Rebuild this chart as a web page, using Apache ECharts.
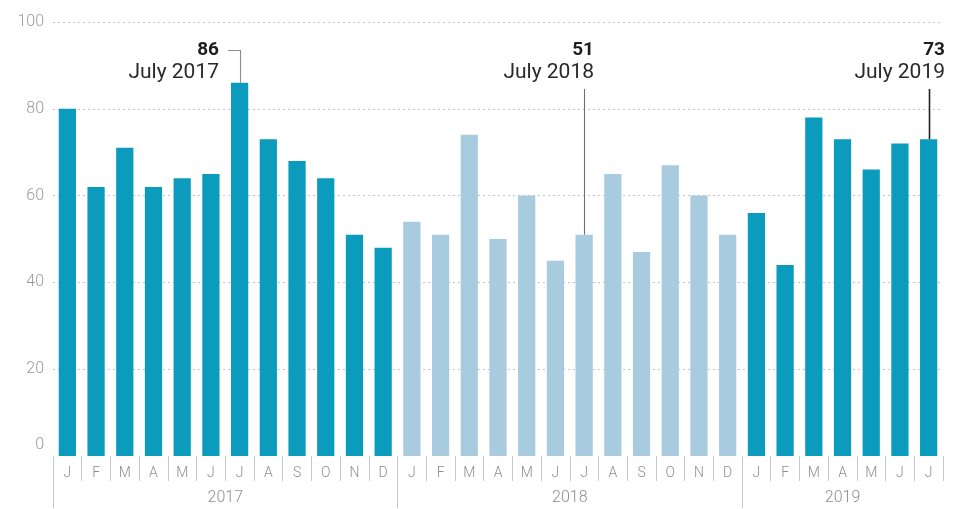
<!DOCTYPE html>
<html>
<head>
<meta charset="utf-8">
<style>
  html, body { margin: 0; padding: 0; background: #fff; }
  #chart { width: 953px; height: 509px; }
</style>
<script src="https://cdn.jsdelivr.net/npm/echarts@6/dist/echarts.min.js"></script>
</head>
<body>
<div id="chart"></div>
<script>
// Monthly index values, January 2017 through July 2019
const monthInitials = ['J', 'F', 'M', 'A', 'M', 'J', 'J', 'A', 'S', 'O', 'N', 'D'];
const years = ['2017', '2018', '2019'];
const values2017 = [80, 62, 71, 62, 64, 65, 86, 73, 68, 64, 51, 48];
const values2018 = [54, 51, 74, 50, 60, 45, 51, 65, 47, 67, 60, 51];
const values2019 = [56, 44, 78, 73, 66, 72, 73];
const yTicks = [0, 20, 40, 60, 80, 100];
// July of each year gets a callout
const calloutMonth = 6;

const DARK = '#0a9bbd';
const LIGHT = '#a9cbdf';
const yearValues = [values2017, values2018, values2019];
const yearColors = [DARK, LIGHT, DARK];

// Flatten into one category list
const categories = [];
const barData = [];
const yearStart = [];
yearValues.forEach((vals, yi) => {
  yearStart.push(categories.length);
  vals.forEach((v, mi) => {
    categories.push(years[yi] + '-' + (mi + 1));
    barData.push({ value: v, itemStyle: { color: yearColors[yi] } });
  });
});
const nCat = categories.length;

// Year band boundaries and centres on a continuous index scale
const yearBounds = yearStart.map(s => s - 0.5);
const yearCentres = yearValues.map((vals, yi) => yearStart[yi] + (vals.length - 1) / 2);

const chart = echarts.init(document.getElementById('chart'), null, { renderer: 'canvas' });

const labelFont = 'Roboto, "Liberation Sans", sans-serif';
const axisGrey = '#8e8e8e';

chart.setOption({
  animation: false,
  backgroundColor: '#ffffff',
  grid: { left: 53, right: 10, top: 22, bottom: 53, containLabel: false },
  xAxis: [
    {
      type: 'category',
      data: categories,
      boundaryGap: true,
      axisLine: { show: false },
      axisTick: { show: true, interval: 0, length: 25, lineStyle: { color: '#c8c8c8', width: 1 } },
      axisLabel: {
        interval: 0,
        margin: 10,
        color: axisGrey,
        fontFamily: labelFont,
        fontWeight: 300,
        fontSize: 14,
        formatter: (val) => monthInitials[Number(val.split('-')[1]) - 1]
      },
      splitLine: { show: false }
    },
    {
      type: 'value',
      min: -0.5,
      max: nCat - 0.5,
      position: 'bottom',
      axisLine: { show: false },
      splitLine: { show: false },
      axisTick: {
        show: true,
        customValues: yearBounds,
        length: 52,
        lineStyle: { color: '#c8c8c8', width: 1 }
      },
      axisLabel: {
        show: true,
        customValues: yearCentres,
        margin: 34,
        color: axisGrey,
        fontFamily: labelFont,
        fontWeight: 300,
        fontSize: 16,
        formatter: v => {
          const i = yearCentres.findIndex(c => Math.abs(c - v) < 1e-6);
          return i >= 0 ? years[i] : '';
        }
      }
    }
  ],
  yAxis: {
    type: 'value',
    min: yTicks[0],
    max: yTicks[yTicks.length - 1],
    interval: yTicks[1] - yTicks[0],
    axisLine: { show: false },
    axisTick: { show: false },
    axisLabel: {
      margin: 9,
      color: '#9a9a9a',
      fontFamily: labelFont,
      fontWeight: 300,
      fontSize: 16,
      formatter: v => (v === 0 ? '{z|0}' : String(v)),
      rich: { z: { padding: [0, 0, 22, 0], color: '#9a9a9a', fontFamily: labelFont, fontWeight: 300, fontSize: 16 } }
    },
    splitLine: {
      show: true,
      showMinLine: false,
      lineStyle: { color: '#c4c4c4', type: [2, 3], width: 1 }
    }
  },
  series: [
    {
      type: 'bar',
      xAxisIndex: 0,
      yAxisIndex: 0,
      data: barData,
      barWidth: '60%',
      silent: true
    }
  ]
});

// Callouts for each July: value in bold, month name beneath, leader line to the bar top
const calloutStyles = [
  { textRight: -21, elbow: true, lineColor: '#8c8c8c' },
  { textRight: 10, elbow: false, lineColor: '#6e6e6e' },
  { textRight: 16, elbow: false, lineColor: '#222222' }
];
const graphics = [];
yearValues.forEach((vals, yi) => {
  if (vals.length <= calloutMonth) return;
  const idx = yearStart[yi] + calloutMonth;
  const v = vals[calloutMonth];
  const [x, yTop] = chart.convertToPixel({ seriesIndex: 0 }, [idx, v]);
  const st = calloutStyles[yi];
  const right = Math.round(x + st.textRight);
  graphics.push({
    type: 'text',
    style: {
      text: String(v), x: right, y: 50, align: 'right', verticalAlign: 'middle',
      font: 'bold 19px ' + labelFont, fill: '#1e1e1e'
    }
  });
  graphics.push({
    type: 'text',
    style: {
      text: 'July ' + years[yi], x: right, y: 73, align: 'right', verticalAlign: 'middle',
      font: '21px ' + labelFont, fill: '#2a2a2a'
    }
  });
  const cx = Math.round(x) + 0.5;
  const pts = st.elbow
    ? [[right + 9, 50.5], [cx, 50.5], [cx, yTop]]
    : [[cx, 89], [cx, yTop]];
  graphics.push({
    type: 'polyline',
    shape: { points: pts },
    style: { stroke: st.lineColor, lineWidth: yi === 2 ? 1.6 : 1.1, fill: null },
    z: 10
  });
});
chart.setOption({ graphic: graphics });
</script>
</body>
</html>
